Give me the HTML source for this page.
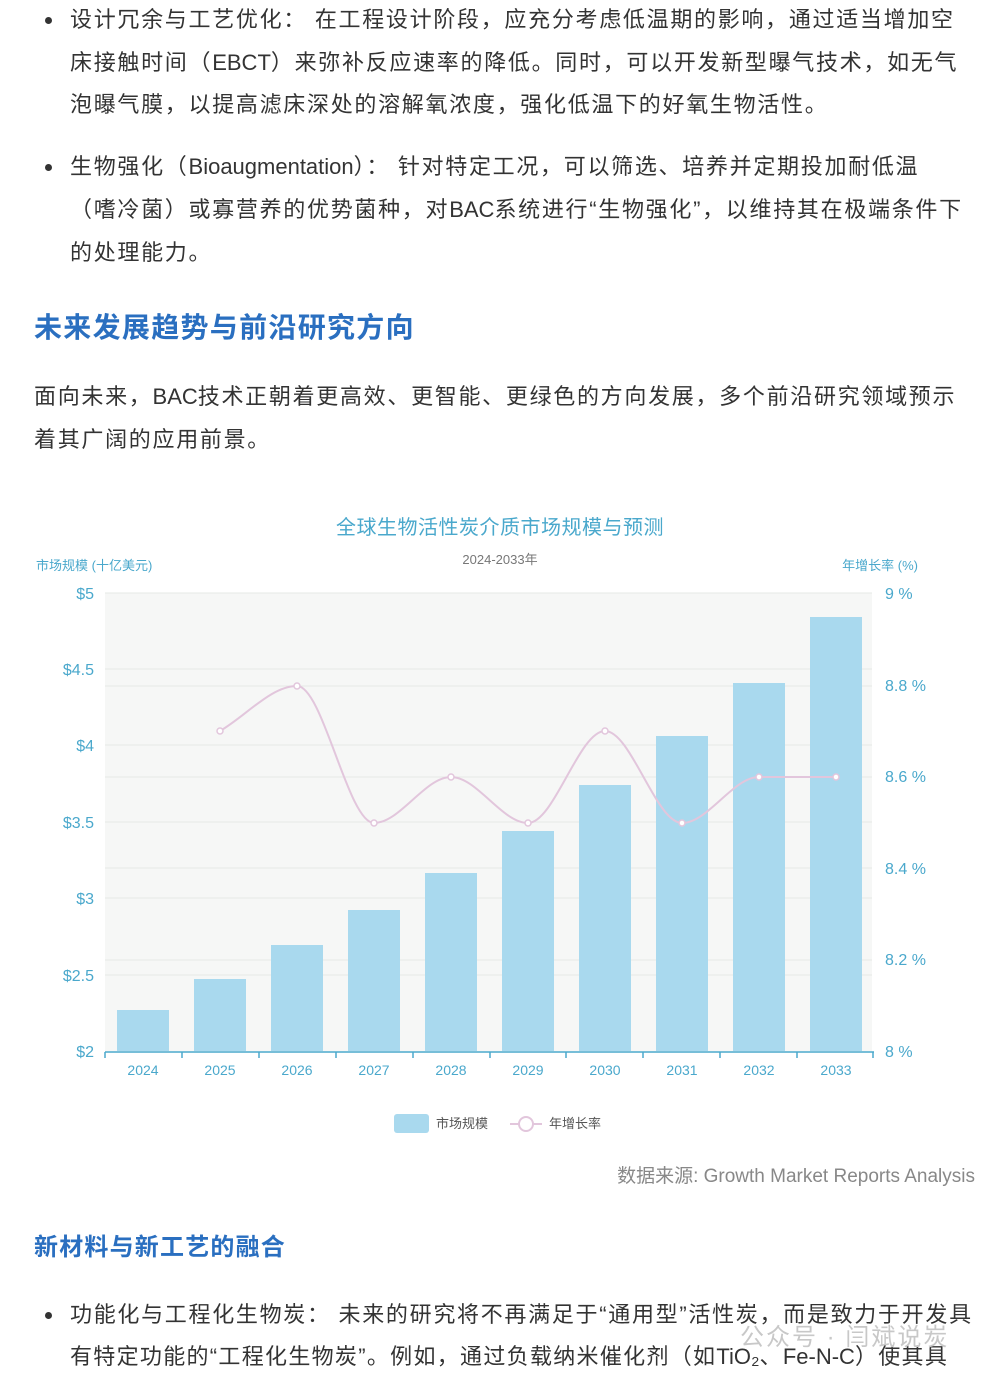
<!DOCTYPE html>
<html><head><meta charset="utf-8">
<style>
body{margin:0;background:#fff;width:1000px;height:1385px;overflow:hidden;position:relative;font-family:"Liberation Sans","Noto Sans CJK SC",sans-serif;}
.t{position:absolute;white-space:nowrap;font-size:22px;color:#333;letter-spacing:0;line-height:1;}
.t c{letter-spacing:1.7px}
.b{position:absolute;width:7px;height:7px;border-radius:50%;background:#333;}
.h{position:absolute;white-space:nowrap;font-weight:bold;color:#2a6fc0;line-height:1;}
</style></head><body>
<div class="b" style="left:45px;top:17px"></div>
<div class="t" style="left:70px;top:9px"><c>设计冗余与工艺优化：&nbsp;在工程设计阶段，应充分考虑低温期的影响，通过适当增加空</c></div>
<div class="t" style="left:70px;top:52px"><c>床接触时间（</c>EBCT<c>）来弥补反应速率的降低。同时，可以开发新型曝气技术，如无气</c></div>
<div class="t" style="left:70px;top:94px"><c>泡曝气膜，以提高滤床深处的溶解氧浓度，强化低温下的好氧生物活性。</c></div>
<div class="b" style="left:45px;top:164px"></div>
<div class="t" style="left:70px;top:156px"><c>生物强化（</c>Bioaugmentation<c>）：&nbsp;针对特定工况，可以筛选、培养并定期投加耐低温</c></div>
<div class="t" style="left:70px;top:199px"><c>（嗜冷菌）或寡营养的优势菌种，对</c>BAC<c>系统进行“生物强化”，以维持其在极端条件下</c></div>
<div class="t" style="left:70px;top:242px"><c>的处理能力。</c></div>
<div class="h" style="left:34px;top:314px;font-size:28px;letter-spacing:1.3px">未来发展趋势与前沿研究方向</div>
<div class="t" style="left:34px;top:386px"><c>面向未来，</c>BAC<c>技术正朝着更高效、更智能、更绿色的方向发展，多个前沿研究领域预示</c></div>
<div class="t" style="left:34px;top:429px"><c>着其广阔的应用前景。</c></div>

<svg style="position:absolute;left:0;top:0" width="1000" height="1385" font-family="Liberation Sans, Noto Sans CJK SC, sans-serif">
<text x="500" y="534" text-anchor="middle" font-size="20" letter-spacing="0.5" fill="#4aa8cc">全球生物活性炭介质市场规模与预测</text>
<text x="500" y="564" text-anchor="middle" font-size="13" fill="#777">2024-2033年</text>
<text x="36" y="570" font-size="13" fill="#4aa8cc">市场规模 (十亿美元)</text>
<text x="918" y="570" text-anchor="end" font-size="13" fill="#4aa8cc">年增长率 (%)</text>
<rect x="105" y="593" width="767" height="458" fill="#f6f7f6"/>
<g stroke="#e6e8e6" stroke-width="1">
<line x1="105" x2="872" y1="593" y2="593"/><line x1="105" x2="872" y1="669" y2="669"/><line x1="105" x2="872" y1="686" y2="686"/>
<line x1="105" x2="872" y1="745" y2="745"/><line x1="105" x2="872" y1="777" y2="777"/><line x1="105" x2="872" y1="822" y2="822"/>
<line x1="105" x2="872" y1="868" y2="868"/><line x1="105" x2="872" y1="898" y2="898"/><line x1="105" x2="872" y1="960" y2="960"/>
<line x1="105" x2="872" y1="975" y2="975"/>
</g>
<g font-size="16" fill="#4aa8cc" text-anchor="end">
<text x="94" y="599">$5</text><text x="94" y="675">$4.5</text><text x="94" y="751">$4</text><text x="94" y="828">$3.5</text><text x="94" y="904">$3</text><text x="94" y="981">$2.5</text><text x="94" y="1057">$2</text>
</g>
<g font-size="16" fill="#4aa8cc">
<text x="885" y="599">9 %</text><text x="885" y="691">8.8 %</text><text x="885" y="782">8.6 %</text><text x="885" y="874">8.4 %</text><text x="885" y="965">8.2 %</text><text x="885" y="1057">8 %</text>
</g>
<g fill="#a9d9ee">
<rect x="117" y="1010" width="52" height="41"/><rect x="194" y="979" width="52" height="72"/><rect x="271" y="945" width="52" height="106"/>
<rect x="348" y="910" width="52" height="141"/><rect x="425" y="873" width="52" height="178"/><rect x="502" y="831" width="52" height="220"/>
<rect x="579" y="785" width="52" height="266"/><rect x="656" y="736" width="52" height="315"/><rect x="733" y="683" width="52" height="368"/>
<rect x="810" y="617" width="52" height="434"/>
</g>
<path d="M220,731 C246,716 271,686 297,686 C323,686 348,823 374,823 C400,823 425,777 451,777 C477,777 502,823 528,823 C554,823 579,731 605,731 C631,731 656,823 682,823 C708,823 733,777 759,777 C785,777 810,777 836,777" fill="none" stroke="#e2c6dc" stroke-width="2"/>
<g fill="#fff" stroke="#e2c6dc" stroke-width="1.5">
<circle cx="220" cy="731" r="3"/><circle cx="297" cy="686" r="3"/><circle cx="374" cy="823" r="3"/><circle cx="451" cy="777" r="3"/><circle cx="528" cy="823" r="3"/><circle cx="605" cy="731" r="3"/><circle cx="682" cy="823" r="3"/><circle cx="759" cy="777" r="3"/><circle cx="836" cy="777" r="3"/>
</g>
<g stroke="#4aa8cc" stroke-width="1.5">
<line x1="105" x2="874" y1="1052" y2="1052"/>
<line x1="105" x2="105" y1="1052" y2="1058"/><line x1="182" x2="182" y1="1052" y2="1058"/><line x1="259" x2="259" y1="1052" y2="1058"/><line x1="336" x2="336" y1="1052" y2="1058"/><line x1="413" x2="413" y1="1052" y2="1058"/><line x1="490" x2="490" y1="1052" y2="1058"/><line x1="566" x2="566" y1="1052" y2="1058"/><line x1="643" x2="643" y1="1052" y2="1058"/><line x1="720" x2="720" y1="1052" y2="1058"/><line x1="797" x2="797" y1="1052" y2="1058"/><line x1="873" x2="873" y1="1052" y2="1058"/>
</g>
<g font-size="14" fill="#4aa8cc" text-anchor="middle">
<text x="143" y="1075">2024</text><text x="220" y="1075">2025</text><text x="297" y="1075">2026</text><text x="374" y="1075">2027</text><text x="451" y="1075">2028</text><text x="528" y="1075">2029</text><text x="605" y="1075">2030</text><text x="682" y="1075">2031</text><text x="759" y="1075">2032</text><text x="836" y="1075">2033</text>
</g>
<rect x="394" y="1114" width="35" height="19" rx="3" fill="#a9d9ee"/>
<text x="436" y="1128" font-size="13" fill="#555">市场规模</text>
<line x1="510" x2="542" y1="1124" y2="1124" stroke="#e2c6dc" stroke-width="2"/>
<circle cx="526" cy="1124" r="7" fill="#fff" stroke="#e2c6dc" stroke-width="2"/>
<text x="549" y="1128" font-size="13" fill="#555">年增长率</text>
<text x="975" y="1182" text-anchor="end" font-size="19" fill="#888">数据来源: Growth Market Reports Analysis</text>
</svg>

<div class="h" style="left:34px;top:1236px;font-size:24px;letter-spacing:1.2px">新材料与新工艺的融合</div>
<div class="b" style="left:45px;top:1312px"></div>
<div class="t" style="left:70px;top:1304px"><c>功能化与工程化生物炭：&nbsp;未来的研究将不再满足于“通用型”活性炭，而是致力于开发具</c></div>
<div class="t" style="left:70px;top:1346px"><c style="letter-spacing:1.3px">有特定功能的“工程化生物炭”。例如，通过负载纳米催化剂（如</c>TiO₂<c style="letter-spacing:1.3px">、</c>Fe-N-C<c style="letter-spacing:1.3px">）使其具</c></div>
<div class="t" style="left:740px;top:1326px;color:#c8c8c8;font-size:24px;letter-spacing:2px">公众号 · 闫斌说炭</div>
</body></html>
